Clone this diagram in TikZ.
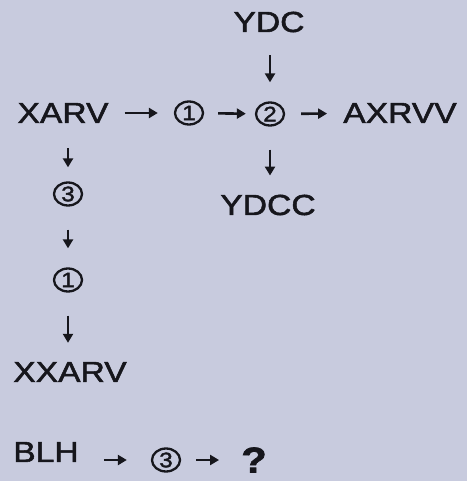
\documentclass[tikz,border=0pt]{standalone}
\usepackage{fontspec}
\setmainfont{Liberation Sans}[FakeStretch=1.16,FakeBold=1.8]
\usetikzlibrary{arrows.meta,shapes.geometric}
\definecolor{paper}{RGB}{200,203,222}
\definecolor{ink}{RGB}{22,22,28}

\tikzset{
  word/.style={inner sep=0pt,text=ink,font=\fontsize{29}{34}\selectfont},
  ring/.style={ellipse,draw=ink,line width=2.3pt,minimum width=28pt,minimum height=23pt,
    inner sep=0pt,text=ink,font=\fontsize{21}{24}\selectfont},
  flow/.style={draw=ink,line width=2.6pt,-{Triangle[length=9pt,width=10pt]},
    shorten <=16pt,shorten >=16pt},
  drop/.style={flow,shorten <=23pt,shorten >=19pt}
}

\begin{document}
\begin{tikzpicture}[x=1pt,y=-1pt]
  \fill[paper] (0,0) rectangle (467,481);

  \node[word] (ydc) at (269,22) {YDC};
  \node[word] (xarv) at (63,113) {XARV};
  \node[ring] (one) at (189,113) {1};
  \node[ring] (two) at (270,114) {2};
  \node[word] (axrvv) at (400,113) {AXRVV};
  \node[word] (ydcc) at (268,205) {YDCC};
  \node[ring] (three) at (68,194) {3};
  \node[ring] (oneb) at (68,280) {1};
  \node[word] (xxarv) at (70,372) {XXARV};
  \node[word] (blh) at (46,452) {BLH};
  \node[ring] (threeb) at (166,460) {3};
  \node[word,font=\fontsize{36}{40}\selectfont\bfseries] (ask) at (254,460) {?};

  % main row
  \draw[flow] (xarv) -- (one);
  \draw[flow,shorten <=14pt,shorten >=9pt] (one) -- (two);
  \draw[flow] (two) -- (axrvv);
  \draw[drop] (two |- ydc.south) -- (two);
  \draw[drop] (two) -- (two |- ydcc.north);

  % left column
  \draw[drop,shorten <=25pt,shorten >=14pt] (three |- xarv.south) -- (three);
  \draw[drop] (three) -- (oneb);
  \draw[drop] (oneb) -- (oneb |- xxarv.north);

  % last row
  \draw[flow,shorten <=25pt,shorten >=24pt] (blh.east |- threeb) -- (threeb);
  \draw[flow,shorten <=15pt,shorten >=22pt] (threeb) -- (ask);
\end{tikzpicture}
\end{document}
